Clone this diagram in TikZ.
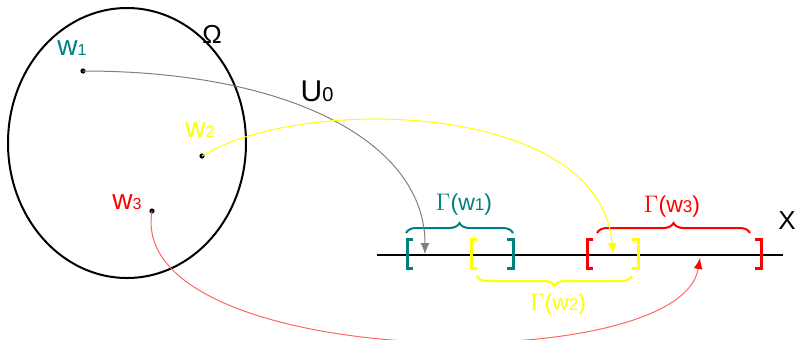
\documentclass[tikz,border=0pt]{standalone}
\usepackage{fontspec}
\setmainfont{Liberation Sans}
\usetikzlibrary{arrows.meta,decorations.pathreplacing}
\definecolor{tealw}{RGB}{0,128,128}
\definecolor{yelw}{RGB}{255,255,0}
\definecolor{redw}{RGB}{255,0,0}
\newcommand{\dig}[1]{{\fontsize{8}{9}\selectfont #1}}

\begin{document}
\begin{tikzpicture}[x=0.5pt,y=-0.5pt,
  dot/.style={circle,fill=black,inner sep=0pt,minimum size=2.6pt},
  brk/.style={line width=1.5pt},
  brc/.style={line width=1pt,decorate,decoration={brace,amplitude=5pt}},
  lab/.style={inner sep=0pt,font=\fontsize{14}{16}\selectfont},
  glab/.style={inner sep=0pt,font=\fontsize{11.5}{13}\selectfont},
  tip/.style={-{Latex[length=5.5pt,width=4.5pt]}}]
\useasboundingbox (0,0) rectangle (799,339);
% the set Omega
\draw[line width=1pt] (127,143) ellipse [x radius=59.5pt, y radius=67.5pt];
\node[inner sep=0pt,font=\fontsize{13}{15}\selectfont] (om) at (212,34) {Ω};
% points and labels
\node[dot] (p1) at (83,71) {};
\node[dot] (p2) at (202,156) {};
\node[dot] (p3) at (152,211) {};
\node[lab,text=tealw] (w1) at (72,48) {w\dig{1}};
\node[lab,text=yelw] (w2) at (200,130) {w\dig{2}};
\node[lab,text=redw] (w3) at (127,202) {w\dig{3}};
\node[inner sep=0pt,font=\fontsize{15}{17}\selectfont] (u0) at (317,91) {U{\fontsize{10}{11}\selectfont 0}};
% the line X
\draw[line width=1pt] (377,255) -- (783,255);
\node[inner sep=0pt,font=\fontsize{13}{15}\selectfont] (x) at (787,221) {X};
\coordinate (a1) at (425,254);
\coordinate (a2) at (613,254);
\coordinate (a3) at (700,258);
% brackets
\draw[brk,tealw] (413,239) -- (407,239) -- (407,268) -- (413,268);
\draw[brk,tealw] (507,239) -- (513,239) -- (513,268) -- (507,268);
\draw[brk,yelw] (477,239) -- (471,239) -- (471,268) -- (477,268);
\draw[brk,yelw] (632,239) -- (638,239) -- (638,268) -- (632,268);
\draw[brk,redw] (593,239) -- (587,239) -- (587,268) -- (593,268);
\draw[brk,redw] (755,239) -- (761,239) -- (761,268) -- (755,268);
% braces
\draw[brc,tealw] (406,233) -- (513,233);
\draw[brc,yelw] (632,276) -- (477,276);
\draw[brc,redw] (597,233) -- (750,233);
\node[glab,text=tealw] (g1) at (464,205) {$\Gamma$(w{\fontsize{8.5}{9}\selectfont 1})};
\node[glab,text=yelw] (g2) at (558,305) {$\Gamma$(w{\fontsize{8.5}{9}\selectfont 2})};
\node[glab,text=redw] (g3) at (672,207) {$\Gamma$(w{\fontsize{8.5}{9}\selectfont 3})};
% the map
\draw[gray,line width=0.5pt,tip] (p1.center) .. controls (295,71) and (425,145) .. (a1);
\draw[yelw,line width=0.5pt,tip] (p2.center) .. controls (300,95) and (600,100) .. (a2);
\draw[redw!60,line width=0.5pt,-{Latex[length=5.5pt,width=4.5pt,color=redw]}] (p3.center) .. controls (125,370) and (680,380) .. (a3);
\end{tikzpicture}
\end{document}
